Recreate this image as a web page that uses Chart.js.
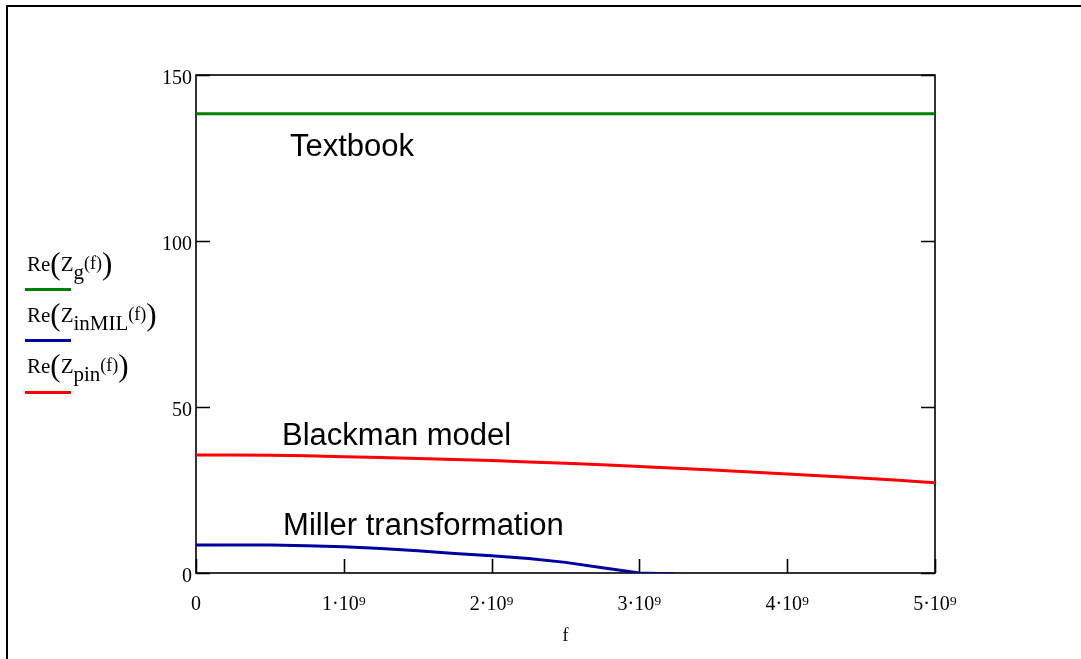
<!DOCTYPE html>
<html>
<head>
<meta charset="utf-8">
<script src="https://cdn.jsdelivr.net/npm/chart.js@4.4.1/dist/chart.umd.min.js"></script>
<style>
  body { margin: 0; background: #fff; }
  #wrap { position: relative; width: 1081px; height: 659px; overflow: hidden; }
  #frame { position: absolute; left: 6px; top: 5px; right: -10px; bottom: -10px;
           border-top: 2px solid #000; border-left: 2px solid #000; pointer-events: none; }
  .leg { position: absolute; left: 27px; font-family: "Liberation Serif", "Times New Roman", serif;
         font-size: 21px; color: #000; white-space: nowrap; line-height: 1; }
  .leg .bp { font-size: 31px; vertical-align: -3px; }
  .leg sub { font-size: 21px; vertical-align: -8px; line-height: 0; }
  .leg .fa { font-size: 18px; vertical-align: 2px; }
  .leg .ln { position: absolute; left: -2px; width: 46px; height: 0; border-top: 3px solid; }
</style>
</head>
<body>
<div id="wrap">
  <canvas id="chart" width="1081" height="659"></canvas>
  <div id="frame"></div>
  <div class="leg" style="top:248px">Re<span class="bp">(</span>Z<sub>g</sub><span class="fa">(f)</span><span class="bp">)</span>
    <div class="ln" style="top:40px;border-color:#008000"></div></div>
  <div class="leg" style="top:299px">Re<span class="bp">(</span>Z<sub>inMIL</sub><span class="fa">(f)</span><span class="bp">)</span>
    <div class="ln" style="top:40px;border-color:#0000a0"></div></div>
  <div class="leg" style="top:350px">Re<span class="bp">(</span>Z<sub>pin</sub><span class="fa">(f)</span><span class="bp">)</span>
    <div class="ln" style="top:41px;border-color:#ff0000"></div></div>
</div>
<script>
// frequency grid, Hz (0 .. 5e9, step 0.25e9)
const freq = [0, 0.25e9, 0.5e9, 0.75e9, 1e9, 1.25e9, 1.5e9, 1.75e9, 2e9, 2.25e9, 2.5e9,
  2.75e9, 3e9, 3.25e9, 3.5e9, 3.75e9, 4e9, 4.25e9, 4.5e9, 4.75e9, 5e9];

// Re(Zg(f)) - textbook, flat
const reZg = [138.3, 138.3, 138.3, 138.3, 138.3, 138.3, 138.3, 138.3, 138.3, 138.3, 138.3,
  138.3, 138.3, 138.3, 138.3, 138.3, 138.3, 138.3, 138.3, 138.3, 138.3];

// Re(ZinMIL(f)) - Miller transformation (goes below 0 after ~3e9, clipped by the axis)
const reZinMIL = [8.45, 8.45, 8.4, 8.2, 7.9, 7.35, 6.7, 5.9, 5.2, 4.35, 3.2, 1.6, 0.0, -0.3];

// Re(Zpin(f)) - Blackman model
const reZpin = [35.55, 35.55, 35.45, 35.3, 35.05, 34.8, 34.5, 34.2, 33.85, 33.45, 33.05,
  32.6, 32.1, 31.55, 31.0, 30.45, 29.85, 29.2, 28.6, 27.9, 27.2];

const yTicks = [0, 50, 100, 150];
const xTicks = [0, 1e9, 2e9, 3e9, 4e9, 5e9];

// text notes inside the plot: label, f, value (left / baseline)
const noteText = ["Textbook", "Blackman model", "Miller transformation"];
const noteF = [0.636e9, 0.582e9, 0.589e9];
const noteV = [125.6, 38.55, 11.45];

const serif = "'Liberation Serif', 'Times New Roman', serif";

function pts(vals) {
  return vals.map((v, i) => ({ x: freq[i], y: v }));
}

const boxPlugin = {
  id: "box",
  beforeDatasetsDraw(chart) {
    const { ctx, chartArea: { left, top, right, bottom }, scales: { x, y } } = chart;
    ctx.save();
    ctx.strokeStyle = "#000";
    ctx.lineWidth = 1.6;
    ctx.strokeRect(left, top, right - left, bottom - top);
    ctx.beginPath();
    yTicks.forEach(v => {
      const py = Math.round(y.getPixelForValue(v)) + 0.5;
      ctx.moveTo(left, py); ctx.lineTo(left + 14, py);
      ctx.moveTo(right - 14, py); ctx.lineTo(right, py);
    });
    xTicks.forEach(v => {
      const px = Math.round(x.getPixelForValue(v)) + 0.5;
      ctx.moveTo(px, bottom); ctx.lineTo(px, bottom - 14);
    });
    ctx.stroke();
    ctx.restore();
  },
  afterDatasetsDraw(chart) {
    const { ctx, scales: { x, y } } = chart;
    ctx.save();
    ctx.fillStyle = "#000";
    ctx.font = "31px 'Liberation Sans', Arial, sans-serif";
    ctx.textBaseline = "alphabetic";
    ctx.textAlign = "left";
    noteText.forEach((t, i) => {
      ctx.fillText(t, x.getPixelForValue(noteF[i]), y.getPixelForValue(noteV[i]));
    });
    ctx.restore();
  }
};

const ctx = document.getElementById("chart").getContext("2d");
new Chart(ctx, {
  type: "line",
  data: {
    datasets: [
      { label: "Re(Zg(f))", data: pts(reZg), borderColor: "#008000" },
      { label: "Re(ZinMIL(f))", data: pts(reZinMIL), borderColor: "#0000a0" },
      { label: "Re(Zpin(f))", data: pts(reZpin), borderColor: "#ff0000" }
    ]
  },
  options: {
    responsive: false,
    animation: false,
    layout: { padding: { left: 0, top: 75, right: 146, bottom: 0 } },
    elements: {
      point: { radius: 0 },
      line: { borderWidth: 3, tension: 0 }
    },
    plugins: { legend: { display: false }, tooltip: { enabled: false } },
    scales: {
      x: {
        type: "linear",
        min: 0,
        max: 5e9,
        afterBuildTicks: s => { s.ticks = xTicks.map(v => ({ value: v })); },
        afterFit: s => { s.height = 86; },
        grid: { display: false, drawTicks: false },
        border: { display: false },
        ticks: {
          color: "#000",
          padding: 20,
          maxRotation: 0,
          font: { family: serif, size: 20 },
          callback: v => v === 0 ? "0" : (v / 1e9) + "·10⁹"
        },
        title: {
          display: true,
          text: "f",
          color: "#000",
          font: { family: serif, size: 18 },
          padding: { top: 0, bottom: 12 }
        }
      },
      y: {
        min: 0,
        max: 150,
        afterBuildTicks: s => { s.ticks = yTicks.map(v => ({ value: v })); },
        afterFit: s => { s.width = 196; },
        grid: { display: false, drawTicks: false },
        border: { display: false },
        ticks: {
          color: "#000",
          padding: 4,
          labelOffset: 4,
          font: { family: serif, size: 20 }
        }
      }
    }
  },
  plugins: [boxPlugin]
});
</script>
</body>
</html>
